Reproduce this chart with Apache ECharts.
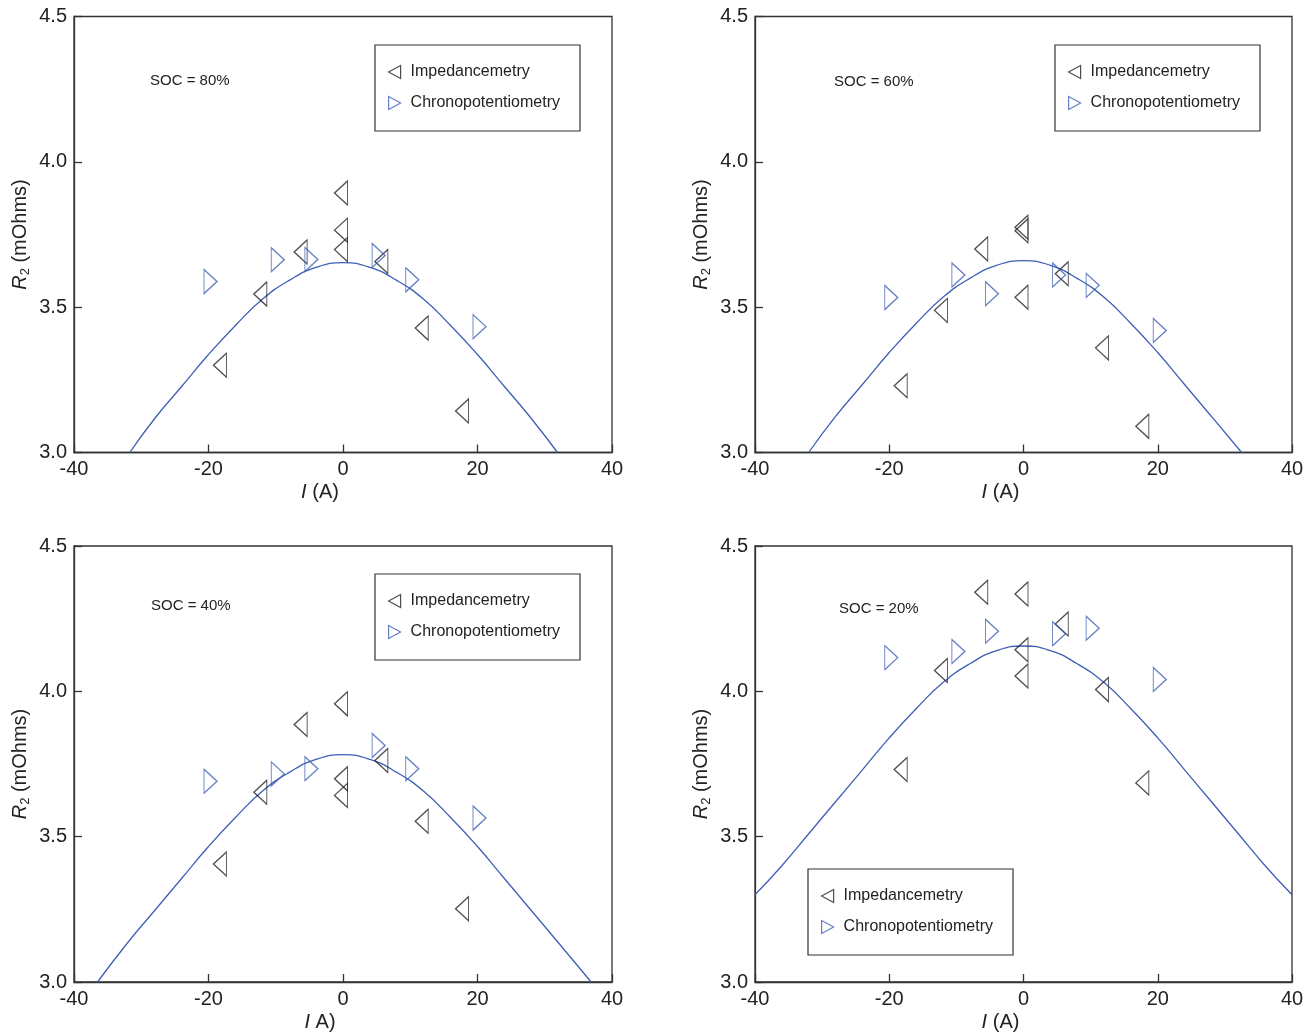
<!DOCTYPE html>
<html>
<head>
<meta charset="utf-8">
<script src="https://cdn.jsdelivr.net/npm/echarts@6/dist/echarts.min.js"></script>
<style>
html,body{margin:0;padding:0;background:#fff;}
#chart{width:1312px;height:1034px;}
</style>
</head>
<body>
<div id="chart"></div>
<script>
// ---- data ----
const socLabels = ['SOC = 80%', 'SOC = 60%', 'SOC = 40%', 'SOC = 20%'];
const xTickValues = [-40, -20, 0, 20, 40];
const yTickValues = [3.0, 3.5, 4.0, 4.5];

const impI = [-18, -12, -6, 0, 0, 0, 6, 12, 18];
const chrI = [-20, -10, -5, 5, 10, 20];

const p1Imp = [3.300, 3.545, 3.690, 3.893, 3.765, 3.698, 3.657, 3.428, 3.143];
const p1Chr = [3.588, 3.663, 3.664, 3.678, 3.594, 3.433];
const p2Imp = [3.230, 3.489, 3.700, 3.775, 3.763, 3.534, 3.615, 3.360, 3.090];
const p2Chr = [3.533, 3.611, 3.546, 3.611, 3.575, 3.420];
const p3Imp = [3.406, 3.653, 3.886, 3.957, 3.699, 3.642, 3.762, 3.553, 3.252];
const p3Chr = [3.691, 3.716, 3.734, 3.814, 3.734, 3.564];
const p4Imp = [3.731, 4.072, 4.341, 4.335, 4.143, 4.053, 4.232, 4.006, 3.685];
const p4Chr = [4.116, 4.137, 4.207, 4.198, 4.217, 4.041];

// fitted curves
const p1FitI = [-31.7, -28, -24, -20, -16, -12, -8, -4, 0, 4, 8, 12, 16, 20, 24, 28, 31.9];
const p1FitR = [3.0, 3.117, 3.227, 3.337, 3.437, 3.527, 3.592, 3.637, 3.653, 3.637, 3.592, 3.527, 3.437, 3.337, 3.227, 3.117, 3.0];
const p2FitI = [-32.0, -28, -24, -20, -16, -12, -8, -4, 0, 4, 8, 12, 16, 20, 24, 28, 32.5];
const p2FitR = [3.0, 3.124, 3.234, 3.344, 3.444, 3.534, 3.599, 3.644, 3.660, 3.644, 3.599, 3.534, 3.444, 3.344, 3.234, 3.124, 3.0];
const p3FitI = [-36.5, -32, -28, -24, -20, -16, -12, -8, -4, 0, 4, 8, 12, 16, 20, 24, 28, 32, 36.9];
const p3FitR = [3.0, 3.136, 3.246, 3.356, 3.466, 3.566, 3.656, 3.721, 3.766, 3.782, 3.766, 3.721, 3.656, 3.566, 3.466, 3.356, 3.246, 3.136, 3.0];
const p4FitI = [-40, -36, -32, -28, -24, -20, -16, -12, -8, -4, 0, 4, 8, 12, 16, 20, 24, 28, 32, 36, 40];
const p4FitR = [3.300, 3.400, 3.510, 3.620, 3.730, 3.840, 3.940, 4.030, 4.095, 4.140, 4.156, 4.140, 4.095, 4.030, 3.940, 3.840, 3.730, 3.620, 3.510, 3.400, 3.300];

const xNames = ['{it|I} (A)', '{it|I} (A)', '{it|I} A)', '{it|I} (A)'];

// ---- layout / style ----
const FONT = "'Liberation Sans', Arial, Helvetica, sans-serif";
const BLUE = '#3d5fb4';
const DARK = '#222';
const grids = [
  {left: 74, top: 16.5, width: 538, height: 436},
  {left: 755, top: 16.5, width: 537, height: 436},
  {left: 74, top: 546, width: 538, height: 436},
  {left: 755, top: 546, width: 537, height: 436}
];
const legendPos = [
  {left: 375, top: 45}, {left: 1055, top: 45}, {left: 375, top: 574}, {left: 808, top: 869}
];
const socPos = [
  {left: 150, top: 73}, {left: 834, top: 74}, {left: 151, top: 598}, {left: 839, top: 601}
];
const LEFT_TRI = 'path://M10,0 L0,10 L10,20 Z';
const RIGHT_TRI = 'path://M0,0 L10,10 L0,20 Z';
const LEFT_ICON = 'path://M12,0 L0,6.5 L12,13 Z';
const RIGHT_ICON = 'path://M0,0 L12,6.5 L0,13 Z';

const panels = [
  {imp: p1Imp, chr: p1Chr, fi: p1FitI, fr: p1FitR},
  {imp: p2Imp, chr: p2Chr, fi: p2FitI, fr: p2FitR},
  {imp: p3Imp, chr: p3Chr, fi: p3FitI, fr: p3FitR},
  {imp: p4Imp, chr: p4Chr, fi: p4FitI, fr: p4FitR}
];

const xAxes = [], yAxes = [], series = [], legends = [], graphics = [];
panels.forEach((p, i) => {
  xAxes.push({
    type: 'value', gridIndex: i,
    min: xTickValues[0], max: xTickValues[xTickValues.length - 1], interval: 20,
    name: xNames[i], nameLocation: 'middle', nameGap: 30,
    nameTextStyle: {
      fontFamily: FONT, fontSize: 20, color: DARK, padding: [0, 46, 0, 0],
      rich: {it: {fontFamily: FONT, fontSize: 20, fontStyle: 'italic', color: DARK}}
    },
    axisLine: {show: true, onZero: false, lineStyle: {color: '#333', width: 1.3}},
    axisTick: {show: true, inside: true, length: 8, lineStyle: {color: '#333', width: 1.3}},
    axisLabel: {fontFamily: FONT, fontSize: 20, color: DARK, margin: 7},
    splitLine: {show: false}
  });
  yAxes.push({
    type: 'value', gridIndex: i,
    min: yTickValues[0], max: yTickValues[yTickValues.length - 1], interval: 0.5,
    name: '{it|R}{sub|2} (mOhms)', nameLocation: 'middle', nameGap: 42,
    nameTextStyle: {
      fontFamily: FONT, fontSize: 20, color: DARK,
      rich: {
        it: {fontFamily: FONT, fontSize: 20, fontStyle: 'italic', color: DARK},
        sub: {fontFamily: FONT, fontSize: 13, color: DARK, verticalAlign: 'bottom', padding: [10, 0, 0, 0]}
      }
    },
    axisLine: {show: true, onZero: false, lineStyle: {color: '#333', width: 1.3}},
    axisTick: {show: true, inside: true, length: 8, lineStyle: {color: '#333', width: 1.3}},
    axisLabel: {fontFamily: FONT, fontSize: 20, color: DARK, margin: 7, formatter: v => v.toFixed(1)},
    splitLine: {show: false}
  });
  series.push({
    name: 'Fit', type: 'line', xAxisIndex: i, yAxisIndex: i,
    data: p.fi.map((x, k) => [x, p.fr[k]]),
    smooth: 0.5, showSymbol: false, symbol: 'none', silent: true, clip: true,
    lineStyle: {color: BLUE, width: 1.3}, z: 2
  });
  series.push({
    name: 'Impedancemetry', type: 'scatter', xAxisIndex: i, yAxisIndex: i,
    data: impI.map((x, k) => [x, p.imp[k]]),
    symbol: LEFT_TRI, symbolSize: [13, 24], symbolOffset: [-2, 0],
    itemStyle: {color: 'rgba(0,0,0,0)', borderColor: DARK, borderWidth: 1.2}, z: 3
  });
  series.push({
    name: 'Chronopotentiometry', type: 'scatter', xAxisIndex: i, yAxisIndex: i,
    data: chrI.map((x, k) => [x, p.chr[k]]),
    symbol: RIGHT_TRI, symbolSize: [13, 24], symbolOffset: [2, 0],
    itemStyle: {color: 'rgba(0,0,0,0)', borderColor: BLUE, borderWidth: 1.2}, z: 3
  });
  legends.push({
    left: legendPos[i].left, top: legendPos[i].top, orient: 'vertical',
    padding: [19, 20, 20, 13], itemGap: 15, itemWidth: 12, itemHeight: 14,
    borderColor: '#333', borderWidth: 1.2, backgroundColor: '#fff',
    selectedMode: false,
    textStyle: {fontFamily: FONT, fontSize: 16, color: DARK, padding: [0, 0, 0, 5]},
    data: [
      {name: 'Impedancemetry', icon: LEFT_ICON,
       itemStyle: {color: 'rgba(0,0,0,0)', borderColor: DARK, borderWidth: 1.2}},
      {name: 'Chronopotentiometry', icon: RIGHT_ICON,
       itemStyle: {color: 'rgba(0,0,0,0)', borderColor: BLUE, borderWidth: 1.2}}
    ]
  });
  graphics.push({
    type: 'text', left: socPos[i].left, top: socPos[i].top, z: 10,
    style: {text: socLabels[i], fontFamily: FONT, fontSize: 15, fill: DARK}
  });
});

const chart = echarts.init(document.getElementById('chart'), null, {renderer: 'canvas'});
chart.setOption({
  animation: false,
  backgroundColor: '#fff',
  grid: grids.map(g => Object.assign({show: true, borderColor: '#333', borderWidth: 1.3, backgroundColor: 'transparent'}, g)),
  xAxis: xAxes,
  yAxis: yAxes,
  legend: legends,
  series: series,
  graphic: graphics
});
</script>
</body>
</html>
